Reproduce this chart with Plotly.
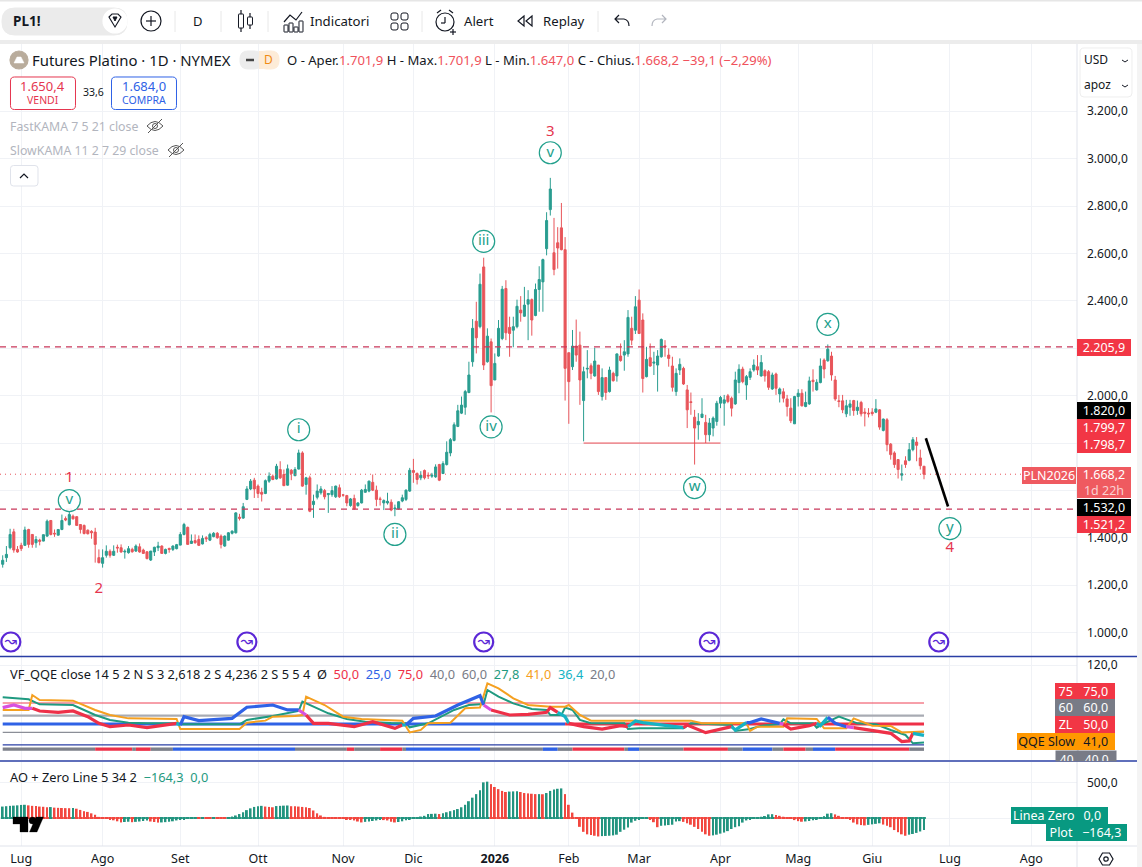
import re
import plotly.graph_objects as go

W, H = 1142, 867

# ---------- data ----------
opens = [1288,1316,1358,1425,1351,1368,1368,1435,1414,1379,
1390,1386,1407,1473,1419,1411,1435,1481,1455,1491,
1489,1456,1452,1432,1427,1424,1316,1292,1326,1343,
1326,1360,1358,1340,1337,1351,1344,1362,1348,1341,
1306,1340,1358,1365,1334,1355,1351,1354,1369,1414,
1444,1376,1388,1393,1374,1400,1390,1405,1419,1407,
1365,1390,1419,1421,1487,1483,1562,1606,1643,1618,
1592,1587,1639,1660,1648,1688,1667,1622,1685,1662,
1690,1758,1625,1653,1540,1571,1590,1599,1582,1582,
1573,1611,1581,1578,1536,1566,1536,1547,1592,1597,
1634,1601,1564,1547,1547,1550,1522,1522,1555,1562,
1597,1684,1671,1653,1684,1664,1660,1657,1709,1671,
1709,1758,1811,1870,1926,1951,2013,2143,2314,2291,
2543,2143,2227,2066,2167,2241,2452,2288,2276,2291,
2361,2335,2386,2405,2338,2448,2480,2620,2785,2603,
2645,2708,2616,2181,2122,2209,2213,1979,2112,2126,
2083,2129,1996,2076,2017,2094,2083,2167,2171,2176,
2284,2276,2403,2319,2080,2160,2137,2129,2164,2210,
2171,2125,2017,2108,2115,2024,1974,1909,1877,1908,
1887,1835,1863,1891,1968,1968,1999,1989,1965,2055,
2112,2045,2077,2108,2122,2083,2105,2101,2028,2091,
2007,2016,1986,1947,1881,1996,2010,1954,1965,2065,
2024,2055,2150,2147,2167,2066,1978,1978,1923,1951,
1979,1937,1971,1930,1926,1930,1930,1940,1853,1898,
1795,1758,1730,1664,1725,1727,1772,1804,1737,1701.9]
highs = [1326,1365,1438,1438,1365,1379,1447,1438,1414,1407,
1396,1414,1477,1473,1435,1435,1498,1490,1512,1498,
1491,1456,1456,1435,1432,1442,1351,1351,1368,1351,
1368,1371,1372,1351,1365,1358,1372,1376,1354,1341,
1344,1362,1383,1368,1354,1358,1368,1374,1424,1463,
1447,1414,1414,1410,1410,1407,1421,1424,1424,1414,
1410,1424,1431,1508,1501,1547,1618,1648,1653,1625,
1611,1646,1676,1667,1712,1723,1688,1709,1690,1698,
1772,1765,1657,1662,1582,1625,1618,1606,1587,1618,
1620,1625,1585,1581,1568,1582,1550,1606,1625,1641,
1667,1620,1573,1562,1590,1562,1540,1554,1582,1604,
1695,1733,1676,1681,1688,1676,1674,1710,1712,1723,
1807,1821,1887,1961,1996,2024,2143,2323,2396,2515,
2582,2284,2241,2178,2319,2463,2487,2333,2333,2405,
2420,2459,2445,2410,2473,2546,2578,2774,2919,2750,
2711,2813,2669,2181,2277,2321,2270,2122,2192,2136,
2202,2129,2115,2076,2122,2101,2178,2220,2234,2361,
2333,2420,2448,2347,2206,2220,2185,2192,2241,2234,
2199,2164,2115,2157,2122,2045,2013,1940,1926,1989,
1919,1905,1912,1978,1999,2003,2007,1996,2101,2132,
2122,2087,2115,2153,2171,2171,2111,2108,2097,2097,
2034,2031,2003,1989,1999,2027,2027,2017,2080,2111,
2069,2157,2157,2216,2185,2083,2003,2003,1982,1982,
1982,1979,1978,1947,1947,1947,1985,1943,1903,1905,
1800,1765,1732,1709,1744,1800,1825,1825,1772,1701.9]
lows = [1274,1298,1351,1337,1337,1344,1365,1358,1358,1358,
1368,1385,1404,1410,1404,1410,1432,1470,1452,1477,
1452,1418,1414,1414,1396,1295,1292,1274,1316,1316,
1323,1337,1337,1312,1333,1337,1340,1337,1333,1309,
1302,1323,1344,1333,1330,1337,1344,1351,1368,1410,
1372,1375,1375,1365,1372,1382,1386,1402,1396,1355,
1362,1388,1414,1418,1473,1480,1559,1601,1568,1568,
1553,1584,1632,1643,1646,1648,1618,1620,1643,1660,
1688,1615,1582,1508,1484,1562,1582,1562,1505,1573,
1568,1568,1573,1533,1531,1519,1531,1545,1590,1592,
1597,1533,1536,1517,1540,1512,1491,1519,1550,1555,
1594,1632,1625,1643,1646,1648,1653,1653,1639,1669,
1705,1744,1807,1867,1922,1919,2010,2122,2178,2284,
2108,2139,1929,2066,2164,2234,2234,2164,2204,2284,
2312,2333,2234,2253,2335,2354,2354,2592,2760,2508,
2536,2613,1979,1881,2108,2143,1961,1807,2073,2069,
2080,2003,1979,1982,2013,2059,2059,2143,2105,2164,
2213,2260,2262,2013,2077,2122,2087,2017,2160,2164,
2122,2017,1999,2087,2045,1863,1919,1709,1814,1905,
1800,1807,1828,1873,1947,1873,1968,1912,1961,2010,
2052,1982,2066,2101,2087,2080,2059,2024,2024,2003,
1971,1971,1912,1884,1880,1954,1954,1951,1961,2017,
2021,2052,2073,2143,2063,1978,1951,1926,1909,1915,
1915,1919,1912,1870,1908,1915,1926,1856,1849,1765,
1730,1695,1650,1641,1695,1723,1765,1723,1688,1647]
closes = [1305,1330,1414,1348,1340,1354,1433,1372,1372,1393,
1385,1413,1470,1414,1416,1435,1473,1475,1498,1480,
1452,1435,1418,1417,1421,1372,1295,1316,1343,1326,
1343,1357,1340,1343,1354,1341,1365,1340,1334,1312,
1344,1360,1365,1334,1351,1351,1365,1371,1414,1456,
1372,1386,1379,1368,1397,1396,1414,1419,1400,1372,
1407,1421,1428,1505,1482,1531,1606,1639,1606,1587,
1584,1641,1660,1646,1702,1653,1620,1691,1671,1688,
1758,1618,1653,1512,1554,1597,1606,1573,1587,1599,
1618,1573,1580,1547,1564,1522,1547,1601,1604,1639,
1601,1562,1562,1557,1554,1517,1525,1552,1569,1601,
1685,1676,1646,1664,1653,1661,1664,1699,1643,1713,
1761,1814,1877,1936,1960,2017,2087,2284,2244,2470,
2129,2251,2042,2136,2284,2449,2265,2262,2291,2377,
2349,2382,2405,2319,2448,2490,2574,2739,2872,2532,
2623,2616,2115,2059,2209,2171,2066,2101,2115,2094,
2146,2017,2076,2013,2108,2063,2176,2148,2185,2330,
2234,2375,2262,2072,2153,2125,2141,2167,2237,2206,
2157,2035,2094,2132,2049,1940,1971,1863,1891,1922,
1835,1884,1905,1968,1992,1982,1975,1947,2066,2111,
2059,2080,2101,2129,2108,2140,2083,2035,2087,2031,
2028,1989,1954,1894,1996,2010,1957,1971,2062,2059,
2056,2125,2112,2196,2087,1986,1975,1940,1957,1965,
1937,1951,1923,1926,1923,1924,1944,1867,1901,1793,
1751,1709,1688,1670,1709,1772,1814,1790,1704,1668.2]
bars = list(range(1, len(closes) + 1))

ao_values = [165,170,175,178,182,188,190,182,175,172,
165,162,155,158,150,147,145,143,142,146,
135,118,100,90,70,50,20,8,-2,-12,
-28,-42,-58,-52,-48,-55,-50,-45,-38,-30,
-45,-52,-60,-58,-54,-48,-42,-30,-20,-10,
-5,8,15,12,16,14,10,18,14,12,
10,16,25,40,60,85,115,140,160,170,
175,165,160,155,172,175,178,180,170,168,
165,160,155,145,110,70,40,20,10,5,
0,-3,-8,-12,-18,-30,-45,-58,-50,-45,
-38,-30,-22,-25,-30,-48,-58,-52,-42,-28,
-10,-2,8,25,35,60,62,65,60,70,
85,100,115,130,155,190,240,290,340,395,
505,515,480,440,410,385,370,375,378,380,
370,355,350,345,340,340,338,355,385,405,
415,420,340,190,80,5,-120,-190,-225,-235,
-245,-255,-250,-248,-245,-240,-230,-190,-160,-130,
-60,-35,-10,-5,-5,-15,-55,-125,-105,-100,
-95,-90,-45,-40,-50,-70,-90,-120,-150,-190,
-225,-245,-240,-230,-215,-200,-180,-150,-125,-110,
-60,-30,-10,5,12,22,32,55,58,48,
35,22,12,-5,-25,-40,-48,-44,-38,-28,
-18,8,30,65,72,55,35,18,2,-25,
-60,-85,-95,-100,-92,-85,-78,-70,-88,-105,
-125,-165,-195,-225,-245,-230,-220,-205,-185,-164.3]

fast_x = [1,6,8,11,20,26,30,35,40,48,49,65,67,74,81,82,85,89,94,99,106,110,111,116,123,127,131,132,135,139,144,148,149,152,153,155,157,160,169,170,173,185,187,198,199,202,203,206,211,212,214,220,221,223,227,232,237,241,245,247,250]
fast_y = [81.8,79.8,79.4,73.4,72.6,60.7,54.8,51.6,50.8,50.8,49.6,49.6,54.8,59.5,65.5,76.6,70.6,62.7,56,52.8,51.2,50.8,46,50.8,66.7,72.6,73.8,90.5,82.6,74.6,67.9,66.7,60.7,60.7,69.5,66.7,54.8,50.8,50.8,44,44.8,44.8,50.8,48.8,41.7,44,44,48,49.6,55.6,50.8,50.8,45.6,50.8,58.7,50.8,49.6,42.9,36.9,27,27.8]
slow_x = [1,8,9,11,20,26,30,35,48,49,65,67,72,74,80,82,83,88,93,98,109,111,114,116,122,126,130,132,135,139,143,149,153,154,157,160,187,190,202,203,205,212,213,221,223,229,231,236,241,244,250]
slow_y = [66.7,66.7,84.5,78.6,77.8,66.7,60.7,56.7,56,44,44,51.6,54,58.7,59.5,60.7,82.6,72.6,58.7,56,54,40,42.9,50.8,51.6,68.7,69.5,98.4,92.5,80.6,72.6,70.6,70.6,72.6,60.7,54,54,50.8,50.8,41.7,46.8,46.8,56.7,56,44.8,44.8,56.7,48,47.6,40,41]
rsi_x = [1,4,7,9,11,16,20,24,27,30,35,40,45,48,49,50,54,59,63,67,74,78,81,83,85,89,96,101,107,109,110,112,118,124,130,131,133,138,143,148,149,151,153,154,158,163,168,170,172,174,185,186,191,198,199,202,203,206,211,212,214,219,221,222,224,226,229,231,237,241,244,246,247,250]
rsi_y = [69.5,72.6,68.7,68.7,65.5,63.9,65.5,58.7,50.8,46.8,48.8,45.6,48.8,50.8,48.8,58.7,54,56,56.7,69.9,72.6,66.7,66.7,60.7,50.8,50.8,46.8,52.8,44.8,48.8,48.8,56.7,59.5,72.6,83.7,72.6,66.7,60.7,61.5,63.9,69.5,63.9,58.7,50.8,46.8,44,48,46.8,53.6,51.6,45.6,48.8,39.7,46.8,42.9,51.6,51.6,56,50.8,49.6,44,48,50.8,48,57.9,50.8,46.8,45.6,41.7,38.9,29,29.8,38.9,36.4]
rsi_state = list("mmmm"+"r"*10+"c"+"b"*8+"m"+"r"*6+"c"+"b"*5+"m"+"r"*5+"cc"+"r"*4+"ccc"+"r"*3+"cc"+"bbb"+"m"+"rrr"+"c"*2+"bb"+"m"+"r"*5+"cc")
band_ends = [26,36,37,41,47,80,94,96,103,109,110,130,147,151,155,169,170,173,185,197,201,209,212,218,220,226,246,250]
band_state = list("grgrgbgrgrgbgbgrgbgrgbgrgbrg")

month_bars = [6,28,49,70,93,112,134,154,173,195,216,236,257,279]
month_labels = ["Lug","Ago","Set","Ott","Nov","Dic","<b>2026</b>","Feb","Mar","Apr","Mag","Giu","Lug","Ago"]
price_ticks = [1000,1200,1400,1600,1800,2000,2200,2400,2600,2800,3000,3200]
price_tick_text = ["1.000,0","1.200,0","1.400,0","","","2.000,0","","2.400,0","2.600,0","2.800,0","3.000,0","3.200,0"]

resistance_level = 2205.9
support_level = 1521.2
last_price = 1668.2
low_line_level = 1799.7
low_line_bars = [158, 195]
target_bars = [250.5, 256.5]
target_prices = [1820.0, 1532.0]

wave_bars = [19,81,107,131,133,149,188,224,257]
wave_prices = [1557,1856,1414,2651,1868,3025,1612,2301,1439]
wave_labels = ["v","i","ii","iii","iv","v","w","x","y"]
count_bars = [19,27,149,257]
count_prices = [1651,1183,3110,1355]
count_labels = ["1","2","3","4"]
session_bars = [3.2,67,131,192,254]
session_price = 960

# ---------- geometry & styles ----------
BAR_RANGE = [0.27, 291.35]
RIGHT = 1077
FONT = "Noto Sans"
TEAL, RED = "#2a9d90", "#e8555a"
WAVE = "#22a08c"
CRIM = "#e5364f"
GRID = "#f0f2f6"
BLUE = "#2a3fa5"
STATE = {"r": "#ee3048", "b": "#2f62e6", "m": "#d850e0", "c": "#15b3c4", "g": "#7d808a"}

def fx(x): return x / W
def fy(y): return 1 - y / H

shapes, anns = [], []

def path_px(d, fill=None, color="#131722", width=1.2):
    toks = d.split()
    out, is_x = [], True
    for t in toks:
        if re.fullmatch(r"[A-Za-z]", t):
            out.append(t)
        else:
            out.append(f"{fx(float(t)):.5f}" if is_x else f"{fy(float(t)):.5f}")
            is_x = not is_x
    s = dict(type="path", xref="paper", yref="paper", path=" ".join(out),
             line=dict(color=color, width=width))
    if fill:
        s["fillcolor"] = fill
    if width == 0:
        s["line"] = dict(width=0)
    shapes.append(s)

def rrect(x0, y0, x1, y1, r, fill=None, color="#131722", width=1):
    path_px(f"M {x0+r} {y0} L {x1-r} {y0} Q {x1} {y0} {x1} {y0+r} L {x1} {y1-r} Q {x1} {y1} {x1-r} {y1} "
            f"L {x0+r} {y1} Q {x0} {y1} {x0} {y1-r} L {x0} {y0+r} Q {x0} {y0} {x0+r} {y0} Z", fill, color, width)

def rect(x0, y0, x1, y1, fill):
    shapes.append(dict(type="rect", xref="paper", yref="paper", x0=fx(x0), x1=fx(x1), y0=fy(y0), y1=fy(y1),
                       fillcolor=fill, line=dict(width=0)))

def circ(cx, cy, r, fill=None, color="#131722", width=1.2):
    s = dict(type="circle", xref="paper", yref="paper", x0=fx(cx-r), x1=fx(cx+r), y0=fy(cy-r), y1=fy(cy+r),
             line=dict(color=color, width=width))
    if fill:
        s["fillcolor"] = fill
    shapes.append(s)

def seg(x0, y0, x1, y1, color="#131722", width=1.2):
    shapes.append(dict(type="line", xref="paper", yref="paper", x0=fx(x0), x1=fx(x1), y0=fy(y0), y1=fy(y1),
                       line=dict(color=color, width=width)))

def txt(x, y, text, size=13, color="#131722", anchor="left", family=FONT):
    anns.append(dict(xref="paper", yref="paper", x=fx(x), y=fy(y), text=text, showarrow=False, xanchor=anchor,
                     yanchor="middle", font=dict(family=family, size=size, color=color), borderpad=0, borderwidth=0))

def badge(x0, x1, y0, y1, text, bg, color="#ffffff", size=12.5):
    anns.append(dict(xref="paper", yref="paper", x=fx(x0), y=fy(y0), xanchor="left", yanchor="top", text=text,
                     showarrow=False, width=x1-x0, height=y1-y0, bgcolor=bg, borderpad=0, borderwidth=0,
                     font=dict(family=FONT, size=size, color=color), align="center", valign="middle"))

fig = go.Figure()

# ---------- main pane ----------
fig.add_trace(go.Candlestick(x=bars, open=opens, high=highs, low=lows, close=closes, xaxis="x", yaxis="y",
    increasing=dict(line=dict(color=TEAL, width=1), fillcolor=TEAL),
    decreasing=dict(line=dict(color=RED, width=1), fillcolor=RED), whiskerwidth=0, showlegend=False))
fig.add_trace(go.Scatter(x=BAR_RANGE, y=[resistance_level]*2, mode="lines", line=dict(color="#c9375a", width=1.2, dash="6px,5px"), xaxis="x", yaxis="y"))
fig.add_trace(go.Scatter(x=BAR_RANGE, y=[support_level]*2, mode="lines", line=dict(color="#c9375a", width=1.2, dash="6px,5px"), xaxis="x", yaxis="y"))
fig.add_trace(go.Scatter(x=BAR_RANGE, y=[last_price]*2, mode="lines", line=dict(color=RED, width=1, dash="1px,4px"), xaxis="x", yaxis="y"))
fig.add_trace(go.Scatter(x=low_line_bars, y=[low_line_level]*2, mode="lines", line=dict(color="#e8474f", width=1), xaxis="x", yaxis="y"))
fig.add_trace(go.Scatter(x=target_bars, y=target_prices, mode="lines", line=dict(color="#000000", width=2.6), xaxis="x", yaxis="y"))
fig.add_trace(go.Scatter(x=wave_bars, y=wave_prices, mode="markers+text", text=wave_labels, textposition="middle center",
    textfont=dict(family=FONT, size=15, color=WAVE), marker=dict(symbol="circle", size=22, color="rgba(255,255,255,0.9)", line=dict(color=WAVE, width=1.2)), xaxis="x", yaxis="y"))
fig.add_trace(go.Scatter(x=count_bars, y=count_prices, mode="text", text=count_labels, textposition="middle center",
    textfont=dict(family=FONT, size=15, color=CRIM), xaxis="x", yaxis="y"))
fig.add_trace(go.Scatter(x=session_bars, y=[session_price]*len(session_bars), mode="markers+text", text=["↝"]*len(session_bars), textposition="middle center",
    textfont=dict(family="DejaVu Sans", size=15, color="#5b27d6"), marker=dict(symbol="circle", size=19, color="#ffffff", line=dict(color="#5b27d6", width=2.2)), xaxis="x", yaxis="y", cliponaxis=False))

# ---------- QQE pane ----------
qkw = dict(xaxis="x2", yaxis="y2", mode="lines")
xa, xb = bars[0], bars[-1]
fig.add_trace(go.Scatter(x=[xa, xb], y=[75, 75], line=dict(color="#ee4055", width=1), **qkw))
fig.add_trace(go.Scatter(x=[xa, xb], y=[60, 60], line=dict(color="#a8abb3", width=2.4), **qkw))
fig.add_trace(go.Scatter(x=[xa, 153], y=[50, 50], line=dict(color=STATE["b"], width=3), **qkw))
fig.add_trace(go.Scatter(x=[153, xb], y=[50, 50], line=dict(color=STATE["r"], width=3), **qkw))
fig.add_trace(go.Scatter(x=[xa, xb], y=[40, 40], line=dict(color="#8b8e97", width=1.4), **qkw))
fig.add_trace(go.Scatter(x=[xa, xb], y=[25, 25], line=dict(color=BLUE, width=1.2), **qkw))
start = xa
for end, st in zip(band_ends, band_state):
    fig.add_trace(go.Scatter(x=[start, end], y=[20, 20], line=dict(color=STATE[st], width=3.4), **qkw))
    start = end
fig.add_trace(go.Scatter(x=fast_x, y=fast_y, line=dict(color="#1f9a80", width=2), **qkw))
fig.add_trace(go.Scatter(x=slow_x, y=slow_y, line=dict(color="#f5a020", width=2), **qkw))
i = 0
while i < len(rsi_x) - 1:
    j = i + 1
    while j < len(rsi_x) - 1 and rsi_state[j + 1] == rsi_state[i + 1]:
        j += 1
    fig.add_trace(go.Scatter(x=rsi_x[i:j + 1], y=rsi_y[i:j + 1], line=dict(color=STATE[rsi_state[i + 1]], width=3.2, shape="linear"), **qkw))
    i = j

# ---------- AO pane ----------
ao_colors = ["#22947f"] + ["#22947f" if b >= a else "#f2473f" for a, b in zip(ao_values, ao_values[1:])]
fig.add_trace(go.Bar(x=bars, y=[14]*len(bars), base=[-7]*len(bars), width=1, marker=dict(color=ao_colors, line=dict(width=0)), xaxis="x3", yaxis="y3"))
fig.add_trace(go.Bar(x=bars, y=ao_values, width=0.5, marker=dict(color=ao_colors, line=dict(width=0)), xaxis="x3", yaxis="y3"))

# ---------- page furniture ----------
rect(0, 0, W, 1.5, "#e6e6e6")
rect(0, 40, W, 44, "#ececec")
rect(1137, 44, W, H, "#f4f4f4")
seg(RIGHT, 44, RIGHT, H, "#e0e3eb", 1)
seg(0, 846, 1137, 846, "#e0e3eb", 1)
seg(0, 656.5, 1137, 656.5, BLUE, 1.3)
seg(0, 761, 1137, 761, BLUE, 1.3)

rrect(2, 8, 127, 35, 13, "#ebebeb", "#ebebeb")
circ(115, 21, 12, "#ffffff", "#ffffff")
path_px("M 109 17 L 112 14 L 118 14 L 121 17 L 115 27 Z", None, "#131722", 1.1)
path_px("M 113 17 L 117 17 L 115 21 Z", "#131722", "#131722", 1)
txt(13, 21, "<b>PL1!</b>", 13.5)
circ(151, 21, 10)
seg(146, 21, 156, 21); seg(151, 16, 151, 26)
for sx in (175, 221, 268, 422, 598):
    seg(sx, 11, sx, 32, "#e8e8e8", 1)
txt(198, 21, "D", 13, anchor="center")
seg(241, 10, 241, 32); rrect(238.5, 14, 243.5, 28, 0.5, "#ffffff")
seg(250, 13, 250, 29); rrect(247.5, 17, 252.5, 25, 0.5, "#ffffff")
path_px("M 284 22 L 290 15 L 296 20 L 302 12", None)
for bx, by in ((284, 25), (289, 23), (294, 27), (299, 21)):
    rrect(bx, by, bx+4, 32, 0.3)
txt(310, 21, "Indicatori", 13.2)
for gx in (391, 401):
    for gy in (13, 23):
        rrect(gx, gy, gx+7, gy+7, 2)
circ(445, 22, 9)
seg(445, 17, 445, 23); seg(445, 23, 441, 23)
seg(437, 13, 441, 10); seg(453, 13, 449, 10)
seg(450, 32, 456, 32); seg(453, 29, 453, 35)
txt(464, 21, "Alert", 13.2)
path_px("M 524 16 L 518 21 L 524 26 Z", None)
path_px("M 532 16 L 526 21 L 532 26 Z", None)
txt(543, 21, "Replay", 13.2)
path_px("M 619 15 L 615 19 L 619 23 M 615 19 L 624 19 Q 629 20 629 26", None)
path_px("M 662 15 L 666 19 L 662 23 M 666 19 L 657 19 Q 652 20 652 26", None, "#b2b5be")

circ(19, 60, 9, "#b9ac9c", "#b9ac9c")
path_px("M 14 63 L 24 63 L 21 57 L 17 57 Z", "#ffffff", "#ffffff", 0.5)
txt(32, 60, "Futures Platino · 1D · NYMEX", 14.9)
rrect(240, 51, 262, 69, 8, "#ececec", "#ececec")
rrect(259, 51, 279, 69, 8, "#fdecd8", "#fdecd8")
rect(259, 51, 263, 69, "#fdecd8")
seg(246, 60, 254, 60, "#444444", 2.5)
txt(268, 60, "D", 12, "#f08a14", "center")
o_col = "#f0525c"
txt(287, 60, "O - Aper." + f'<span style="color:{o_col}">1.701,9</span> H - Max.' + f'<span style="color:{o_col}">1.701,9</span> L - Min.'
    + f'<span style="color:{o_col}">1.647,0</span> C - Chius.' + f'<span style="color:{o_col}">1.668,2 −39,1 (−2,29%)</span>', 13.1)
rrect(10.5, 77, 75.5, 109.5, 4, "#ffffff", "#e5364f", 1)
rrect(111.5, 77, 176.5, 109.5, 4, "#ffffff", "#2f62e6", 1)
txt(43, 86, "1.650,4", 13, "#e5364f", "center")
txt(43, 100, "VENDI", 10.5, "#e5364f", "center")
txt(144, 86, "1.684,0", 13, "#2f62e6", "center")
txt(144, 100, "COMPRA", 10.5, "#2f62e6", "center")
txt(93, 92, "33,6", 10.5, "#131722", "center")
txt(10, 126, "FastKAMA 7 5 21 close", 12.3, "#b2b5be")
txt(10, 150, "SlowKAMA 11 2 7 29 close", 12.3, "#b2b5be")
for ex, ey in ((155, 126), (176, 150)):
    path_px(f"M {ex-8} {ey} Q {ex} {ey-9} {ex+8} {ey} Q {ex} {ey+9} {ex-8} {ey} Z", None, "#555555", 1)
    circ(ex, ey, 2.5, None, "#555555", 1)
    seg(ex-7, ey+7, ex+7, ey-7, "#555555", 1)
rrect(10.5, 165.5, 38, 186, 3, "#ffffff", "#e0e3eb", 1)
path_px("M 20 178 L 24 174 L 28 178", None)

rrect(1080, 48, 1132, 97, 4, "#ffffff", "#eeeeee", 1)
txt(1084, 60, "USD", 12)
txt(1084, 85, "apoz", 12)
path_px("M 1122 60 L 1125 62 L 1128 60", None, width=1)
path_px("M 1122 85 L 1125 87 L 1128 85", None, width=1)

# TradingView mark
path_px("M 13 817 L 28 817 L 28 832 L 20 832 L 20 824 L 13 824 Z", "#000000", "#000000", 0.3)
circ(32.5, 820.5, 3.5, "#000000", "#000000", 0.3)
path_px("M 36 817 L 43.5 817 L 37 832 L 29.5 832 Z", "#000000", "#000000", 0.3)
# settings
path_px("M 1099 859 L 1102.5 853 L 1109.5 853 L 1113 859 L 1109.5 865 L 1102.5 865 Z", None)
circ(1106, 859, 2.2)

# price badges
badge(1022, 1076, 467, 484, "PLN2026", "#ef5a60")
badge(RIGHT, 1131, 339, 355.7, "2.205,9", "#f23645")
badge(RIGHT, 1131, 402, 418.7, "1.820,0", "#000000")
badge(RIGHT, 1131, 419, 435.5, "1.799,7", "#f23645")
badge(RIGHT, 1131, 435.5, 452.6, "1.798,7", "#f23645")
badge(RIGHT, 1131, 467, 497.5, '1.668,2<br><span style="color:#fbd0d0">1d 22h</span>', "#ef5a60")
badge(RIGHT, 1131, 499, 516, "1.532,0", "#000000")
badge(RIGHT, 1131, 516, 533, "1.521,2", "#f23645")

# QQE
badge(1055, 1076.5, 682.5, 699, "75", "#f23645")
badge(1076.5, 1114, 682.5, 699, "75,0", "#f23645")
badge(1055, 1076.5, 699, 716, "60", "#787b86")
badge(1076.5, 1114, 699, 716, "60,0", "#787b86")
badge(1055, 1076.5, 716, 733, "ZL", "#f23645")
badge(1076.5, 1114, 716, 733, "50,0", "#f23645")
badge(1017, 1076.5, 733, 749.5, "QQE Slow", "#ff9800", "#131722")
badge(1076.5, 1114, 733, 749.5, "41,0", "#ff9800", "#131722")
anns.append(dict(xref="paper", yref="paper", x=fx(1055), y=fy(750), xanchor="left", yanchor="top", text="40", showarrow=False,
                 width=21.5, height=10, bgcolor="#787b86", borderpad=0, valign="top", font=dict(family=FONT, size=12, color="#ffffff")))
anns.append(dict(xref="paper", yref="paper", x=fx(1076.5), y=fy(750), xanchor="left", yanchor="top", text="40,0", showarrow=False,
                 width=37.5, height=10, bgcolor="#787b86", borderpad=0, valign="top", font=dict(family=FONT, size=12, color="#ffffff")))
# AO
badge(1011, 1076.5, 807, 823.5, "Linea Zero", "#089981")
badge(1076.5, 1107, 807, 823.5, "0,0", "#089981")
badge(1046, 1076.5, 823.5, 840, "Plot", "#089981")
badge(1076.5, 1126, 823.5, 840, "−164,3", "#089981")

def sp(c, t):
    return f'<span style="color:{c}">{t}</span>'
gap = "\u00a0\u00a0"
txt(10, 673.5, "VF_QQE close 14 5 2 N S 3 2,618 2 S 4,236 2 S 5 5 4" + gap + "Ø" + gap + sp("#ee3048", "50,0") + gap + sp("#2f62e6", "25,0") + gap
    + sp("#ee3048", "75,0") + gap + sp("#787b86", "40,0") + gap + sp("#787b86", "60,0") + gap + sp("#1f9a80", "27,8") + gap
    + sp("#f5a020", "41,0") + gap + sp("#15b3c4", "36,4") + gap + sp("#787b86", "20,0"), 12.8)
txt(10, 777, "AO + Zero Line 5 34 2" + gap + sp("#1f9a80", "−164,3") + gap + sp("#1f9a80", "0,0"), 12.8)

dom_x = [0, RIGHT / W]
def xax(anchor, labels=False):
    return dict(domain=dom_x, range=BAR_RANGE, anchor=anchor, tickmode="array", tickvals=month_bars,
                ticktext=month_labels if labels else [""] * len(month_bars), showgrid=True, gridcolor=GRID, gridwidth=1,
                zeroline=False, showline=False, ticks="", rangeslider=dict(visible=False), fixedrange=True,
                tickfont=dict(family=FONT, size=12.5, color="#131722"), ticklabelstandoff=3)
def yax(anchor, dom, rng, ticks, labels):
    return dict(domain=dom, range=rng, anchor=anchor, side="right", tickmode="array", tickvals=ticks, ticktext=labels,
                showgrid=True, gridcolor=GRID, gridwidth=1, zeroline=False, showline=False, ticks="", fixedrange=True,
                tickfont=dict(family=FONT, size=12, color="#131722"), ticklabelstandoff=9)

fig.update_layout(
    width=W, height=H, margin=dict(l=0, r=0, t=0, b=0), autosize=False, paper_bgcolor="#ffffff", plot_bgcolor="#ffffff",
    showlegend=False, hovermode=False, separators=",.", barmode="overlay", dragmode=False, boxgap=0.2,
    shapes=shapes, annotations=anns,
    xaxis=xax("y"), xaxis2=xax("y2"), xaxis3=xax("y3", True),
    yaxis=yax("x", [fy(656), fy(44)], [901, 3484], price_ticks, price_tick_text),
    yaxis2=yax("x2", [fy(760), fy(657)], [7.1, 129.8], [120], ["120,0"]),
    yaxis3=yax("x3", [fy(846), fy(762)], [-389, 791], [0, 500], ["", "500,0"]),
)
fig.write_html("out.html", config={"displayModeBar": False, "staticPlot": False},
               post_script="document.body.style.margin='0';document.body.style.overflow='hidden';")
